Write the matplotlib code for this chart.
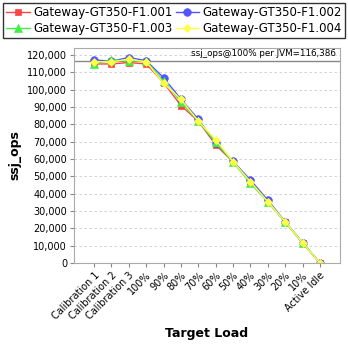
import matplotlib
matplotlib.use("Agg")
import matplotlib.pyplot as plt
from matplotlib.ticker import FuncFormatter, MultipleLocator

categories = ["Calibration 1", "Calibration 2", "Calibration 3", "100%", "90%", "80%",
              "70%", "60%", "50%", "40%", "30%", "20%", "10%", "Active Idle"]

series_names = ["Gateway-GT350-F1.001", "Gateway-GT350-F1.002",
                "Gateway-GT350-F1.003", "Gateway-GT350-F1.004"]

ops_001 = [114800, 114800, 115600, 114800, 104000, 90800, 81800, 68100, 58300, 46800, 35300, 23600, 11600, 0]
ops_002 = [117100, 116400, 118500, 116700, 106900, 94500, 82900, 69100, 58700, 47900, 36300, 23900, 11800, 0]
ops_003 = [114800, 117100, 116500, 116500, 104800, 92900, 81800, 69500, 58300, 46000, 35300, 23600, 11600, 0]
ops_004 = [116200, 116000, 117500, 116000, 103700, 94400, 81800, 71000, 58500, 46900, 35400, 23800, 11700, 0]

ref_value = 116386

colors = ["#FF4444", "#5555FF", "#44EE44", "#FFFF44"]
markers = ["s", "o", "^", "D"]
msizes = [4.5, 5.5, 5.5, 4.5]

W, H = 348, 348
fig = plt.figure(figsize=(W / 100, H / 100), dpi=100)
ax = fig.add_axes([74 / W, (H - 263) / H, 266 / W, 215 / H])

x = list(range(len(categories)))
for vals, name, c, m, ms in zip([ops_001, ops_002, ops_003, ops_004], series_names, colors, markers, msizes):
    ax.plot(x, vals, color=c, marker=m, markersize=ms, linewidth=1, label=name,
            markeredgewidth=0.5, markeredgecolor=c)

ax.axhline(ref_value, color="#888888", linewidth=1, zorder=1)
ax.text(13.9, ref_value + 1800, "ssj_ops@100% per JVM=116,386", ha="right", va="bottom",
        fontsize=6.3, color="black")

ax.set_xlim(-1.156, 14.156)
ax.set_ylim(0, 124000)
ax.yaxis.set_major_locator(MultipleLocator(10000))
ax.yaxis.set_major_formatter(FuncFormatter(lambda v, p: f"{int(v):,}"))
ax.set_xticks(x)
ax.set_xticklabels(categories, rotation=45, ha="right", rotation_mode="anchor", fontsize=7)
ax.tick_params(axis="y", labelsize=7, length=3, color="#888888", pad=2)
ax.tick_params(axis="x", length=3, color="#888888", pad=2)
ax.grid(axis="y", color="#CCCCCC", linestyle=(0, (3, 3)), linewidth=0.6)
ax.set_axisbelow(True)
for s in ax.spines.values():
    s.set_color("#AAAAAA")
    s.set_linewidth(0.8)

ax.set_ylabel("ssj_ops", fontsize=9, fontweight="bold", labelpad=4)
ax.set_xlabel("Target Load", fontsize=9, fontweight="bold", labelpad=4)

# legend fills column-wise, so order entries to read row by row
handles, labels = ax.get_legend_handles_labels()
order = [0, 2, 1, 3]
leg = fig.legend([handles[i] for i in order], [labels[i] for i in order],
                 loc="upper left", bbox_to_anchor=(3 / W, 1 - 43 / H, 342 / W, 40 / H),
                 mode="expand", ncol=2, fontsize=8.5, frameon=True, fancybox=False,
                 borderpad=0.25, handlelength=2.0, handletextpad=0.3, columnspacing=0.6,
                 labelspacing=0.25, borderaxespad=0)
leg.get_frame().set_edgecolor("black")
leg.get_frame().set_linewidth(1)

fig.savefig("out.png", dpi=100)
